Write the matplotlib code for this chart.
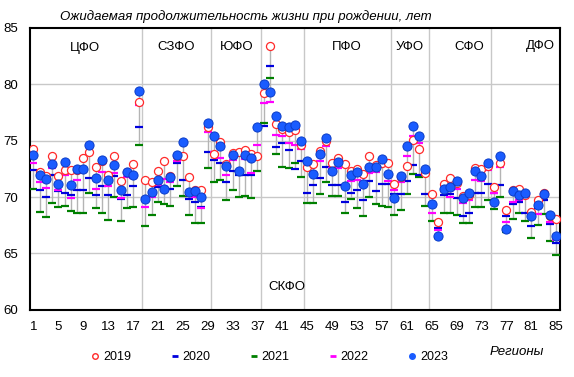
import matplotlib
matplotlib.use("Agg")
import matplotlib.pyplot as plt
from matplotlib.lines import Line2D

plt.rcParams['font.family'] = ['Liberation Sans', 'DejaVu Sans']

regions = list(range(1, 86))

y2019 = [74.3, 72.2, 71.9, 73.65, 71.9, 72.4, 72.4, 72.4, 73.45, 74.0,
         72.65, 73.2, 72.0, 73.6, 71.4, 72.2, 72.9, 78.4, 71.5, 71.35,
         72.35, 73.2, 71.9, 73.6, 73.65, 71.8, 70.6, 70.65, 76.25, 73.8,
         74.9, 72.9, 73.95, 74.0, 74.2, 73.8, 73.6, 79.2, 83.4, 76.5,
         76.0, 75.8, 75.95, 74.6, 72.7, 72.9, 74.1, 75.0, 73.0, 73.5,
         72.9, 72.3, 72.5, 72.05, 73.65, 72.85, 73.0, 73.0, 71.2, 71.8,
         72.8, 75.05, 74.25, 72.1, 70.3, 67.75, 71.2, 71.7, 71.25, 70.1,
         70.2, 72.55, 72.5, 72.8, 70.9, 73.0, 68.9, 70.6, 70.7, 70.15,
         68.7, 69.75, 70.35, 68.3, 68.05]

y2020 = [72.4, 70.6, 70.05, 72.0, 70.5, 70.4, 70.2, 70.6, 70.6, 71.7,
         70.15, 71.0, 70.15, 71.9, 69.8, 70.2, 71.0, 76.25, 69.9, 70.3,
         70.9, 70.9, 70.7, 73.0, 71.5, 69.85, 69.6, 69.15, 74.0, 73.3,
         73.0, 71.3, 72.3, 72.0, 72.0, 72.0, 73.5, 76.3, 81.6, 74.4,
         74.8, 74.2, 72.5, 73.2, 70.4, 71.1, 71.7, 72.65, 71.1, 71.1,
         69.55, 70.4, 70.6, 69.75, 71.4, 70.5, 71.2, 71.2, 70.25, 70.25,
         71.4, 72.85, 72.0, 70.3, 69.5, 67.3, 70.15, 70.3, 69.9, 68.3,
         68.6, 70.4, 70.4, 71.2, 70.35, 71.1, 68.3, 69.4, 69.6, 68.6,
         67.4, 69.0, 69.75, 67.6, 65.9]

y2021 = [70.7, 68.7, 68.2, 69.5, 69.1, 69.25, 68.8, 68.6, 68.6, 70.35,
         69.0, 68.6, 68.0, 70.0, 67.9, 69.0, 69.1, 74.6, 67.4, 68.4,
         69.55, 69.4, 69.2, 71.0, 70.1, 68.4, 67.7, 67.7, 72.55, 71.3,
         71.5, 69.75, 70.6, 70.05, 70.1, 69.9, 72.3, 76.6, 80.6, 73.8,
         72.7, 72.55, 73.05, 71.8, 69.5, 69.5, 70.3, 71.3, 70.1, 70.1,
         68.6, 69.8, 69.0, 68.3, 70.05, 69.4, 69.2, 69.1, 68.4, 68.9,
         70.3, 72.05, 71.75, 69.25, 67.9, 66.4, 68.6, 68.6, 68.4, 67.7,
         67.7, 69.15, 69.1, 69.75, 68.95, 70.05, 66.9, 68.05, 68.6, 67.9,
         66.35, 67.5, 68.5, 66.15, 64.9]

y2022 = [73.06, 71.3, 70.85, 72.55, 70.6, 72.0, 69.95, 71.5, 72.2, 73.8,
         70.7, 72.2, 71.0, 72.1, 69.9, 71.8, 71.7, 78.2, 69.1, 70.0,
         71.05, 71.6, 71.3, 73.2, 73.45, 70.2, 70.0, 69.0, 75.8, 74.0,
         73.5, 72.0, 73.3, 72.3, 73.4, 72.1, 74.6, 78.3, 78.4, 75.5,
         75.4, 74.8, 74.6, 74.3, 72.5, 72.2, 73.2, 74.5, 72.6, 72.55,
         71.0, 71.4, 71.5, 71.3, 72.1, 72.2, 72.85, 71.4, 70.6, 71.3,
         73.65, 75.4, 74.8, 72.2, 68.6, 67.1, 70.5, 70.05, 70.7, 69.45,
         69.75, 71.5, 71.45, 72.4, 70.4, 72.7, 67.8, 69.6, 69.75, 69.9,
         68.5, 68.5, 70.0, 67.8, 66.2]

y2023 = [73.7, 72.0, 71.6, 72.9, 71.2, 73.15, 71.1, 72.5, 72.5, 74.6,
         71.7, 73.25, 71.5, 72.85, 70.6, 72.2, 72.0, 79.4, 69.8, 70.45,
         71.55, 70.7, 71.8, 73.7, 74.9, 70.45, 70.5, 70.05, 76.6, 75.4,
         74.5, 72.8, 73.7, 72.3, 73.7, 73.5, 76.2, 80.0, 79.3, 77.2,
         76.3, 76.25, 76.35, 75.0, 73.2, 72.05, 73.8, 75.2, 72.35, 73.15,
         71.0, 72.0, 72.2, 71.2, 72.7, 72.65, 73.4, 72.05, 69.9, 71.9,
         74.5, 76.3, 75.4, 72.5, 69.4, 66.55, 70.7, 70.9, 71.4, 69.9,
         70.35, 72.3, 71.9, 73.0, 69.6, 73.6, 67.2, 70.5, 70.15, 70.4,
         68.3, 69.3, 70.25, 68.4, 66.55]

districts = ['ЦФО', 'СЗФО', 'ЮФО', 'СКФО', 'ПФО', 'УФО', 'СФО', 'ДФО']
district_sizes = [18, 11, 8, 7, 14, 6, 10, 11]
xticks = list(range(1, 86, 4))

fig = plt.figure(figsize=(5.74, 3.77), dpi=100)
ax = fig.add_axes([0.053, 0.178, 0.923, 0.748])

# high-low lines
lows = [min(v) for v in zip(y2019, y2020, y2021, y2022, y2023)]
highs = [max(v) for v in zip(y2019, y2020, y2021, y2022, y2023)]
ax.vlines(regions, lows, highs, color='#b4b4b4', lw=1.0, zorder=1)

# district boundaries
bounds = []
acc = 0
for s in district_sizes[:-1]:
    acc += s
    bounds.append(acc + 0.5)
for b in bounds:
    ax.axvline(b, color='#c8c8c8', lw=1.0, zorder=0)
for yv in [65, 70, 75, 80]:
    ax.axhline(yv, color='#c8c8c8', lw=1.0, zorder=0)

ms = 5.2
mw = 1.6
ax.plot(regions, y2021, ls='none', marker='_', color='#008000', ms=ms, mew=mw, zorder=3)
ax.plot(regions, y2020, ls='none', marker='_', color='#0000dd', ms=ms, mew=mw, zorder=3)
ax.plot(regions, y2022, ls='none', marker='_', color='#ff00ff', ms=ms, mew=mw, zorder=3)
ax.plot(regions, y2019, ls='none', marker='o', mfc='white', mec='#ff2a2a', ms=5.8, mew=0.9, zorder=4)
ax.plot(regions, y2023, ls='none', marker='o', mfc='#1a5cff', mec='#0a3cc8', ms=6.6, mew=0.7, zorder=5)

ax.set_xlim(0.52, 85.65)
ax.set_ylim(60, 85)
ax.set_yticks([60, 65, 70, 75, 80, 85])
ax.set_xticks(xticks)
ax.tick_params(axis='both', length=0, labelsize=9.5, colors='black')
ax.tick_params(axis='x', pad=8)
ax.tick_params(axis='y', pad=9)
for sp in ax.spines.values():
    sp.set_linewidth(1.5)
    sp.set_color('black')

# district labels
label_x = [9.3, 24.0, 33.7, 41.8, 51.4, 61.5, 71.1, 82.4]
label_y = [83.2, 83.3, 83.3, 62.0, 83.3, 83.3, 83.3, 83.4]
for name, lx, ly in zip(districts, label_x, label_y):
    ax.text(lx, ly, name, ha='center', va='center', fontsize=9.5)

fig.text(0.105, 0.957, 'Ожидаемая продолжительность жизни при рождении, лет',
         ha='left', va='center', fontsize=9.5, style='italic')
fig.text(0.90, 0.066, 'Регионы', ha='center', va='center', fontsize=9.5, style='italic')

handles = [
    Line2D([], [], ls='none', marker='o', mfc='white', mec='#ff2a2a', ms=4, mew=1.0),
    Line2D([], [], ls='none', marker='_', color='#0000dd', ms=5, mew=2),
    Line2D([], [], ls='none', marker='_', color='#008000', ms=5, mew=2),
    Line2D([], [], ls='none', marker='_', color='#ff00ff', ms=5, mew=2),
    Line2D([], [], ls='none', marker='o', mfc='#1a5cff', mec='#1a5cff', ms=4),
]
fig.legend(handles, ['2019', '2020', '2021', '2022', '2023'], loc='center',
           bbox_to_anchor=(0.47, 0.052), ncol=5, frameon=False, fontsize=9,
           handlelength=0.6, handletextpad=0.3, columnspacing=3.2)

fig.savefig('out.png', dpi=100)
